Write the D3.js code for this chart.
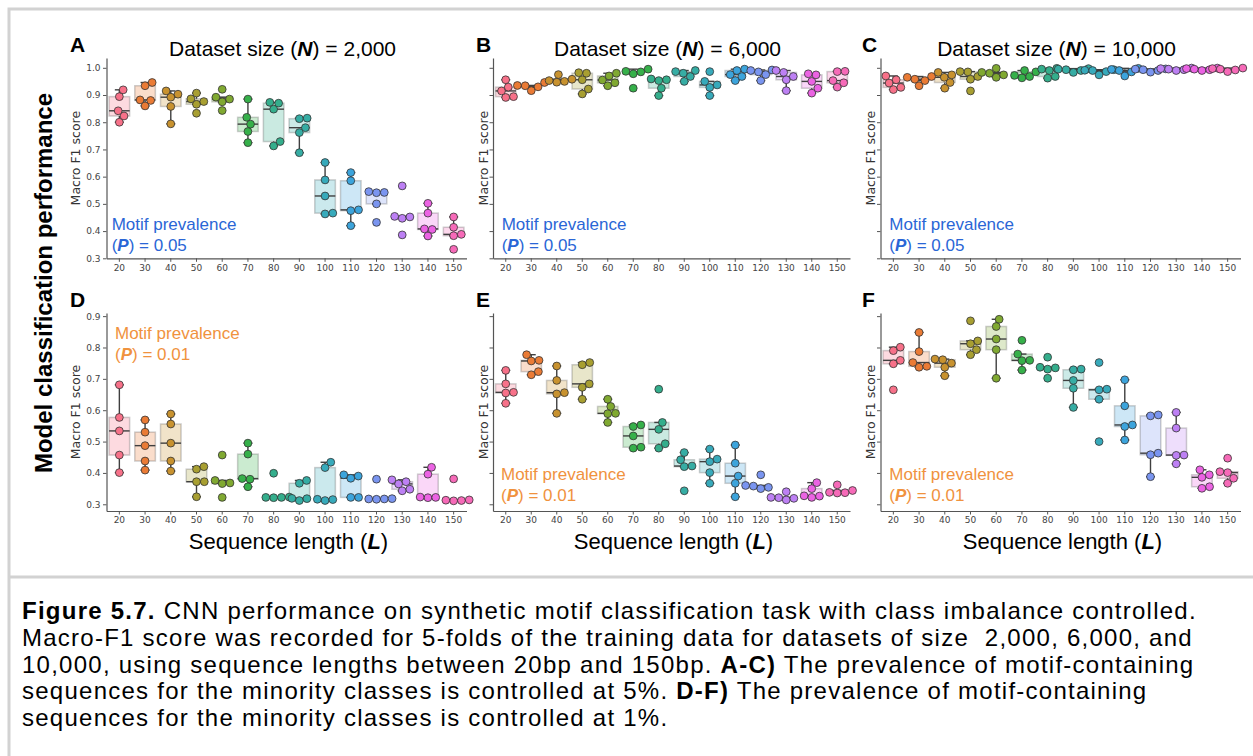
<!DOCTYPE html>
<html>
<head>
<meta charset="utf-8">
<script src="https://cdn.jsdelivr.net/npm/d3@7"></script>
<style>
body { margin: 0; background: #fff; }
text { font-family: "Liberation Sans", Arial, sans-serif; }
</style>
</head>
<body>
<div id="chart"></div>
<script>
// sequence lengths (x categories) and one colour per length (seaborn husl)
const lengths = [20, 30, 40, 50, 60, 70, 80, 90, 100, 110, 120, 130, 140, 150];
const palette = ["#f77189", "#ea7b35", "#c8922f", "#a89f31", "#80a931", "#36b04a", "#34ae8c",
                 "#36ada4", "#37aabb", "#3ca4dc", "#7a95f0", "#bd80f4", "#eb63e3", "#f66ab8"];

const datasetSizes = ["2,000", "6,000", "10,000"];
const prevalences = ["0.05", "0.01"];

// macro F1 of the 5 folds, one row per sequence length
const scoresA = [
  [0.800, 0.823, 0.842, 0.894, 0.919], [0.860, 0.880, 0.882, 0.934, 0.946],
  [0.794, 0.858, 0.892, 0.903, 0.915], [0.833, 0.866, 0.876, 0.886, 0.907],
  [0.843, 0.875, 0.885, 0.892, 0.921], [0.725, 0.766, 0.793, 0.818, 0.885],
  [0.713, 0.729, 0.848, 0.870, 0.873], [0.688, 0.762, 0.780, 0.813, 0.815],
  [0.463, 0.466, 0.529, 0.588, 0.652], [0.420, 0.475, 0.478, 0.585, 0.615],
  [0.432, 0.500, 0.541, 0.542, 0.545], [0.386, 0.447, 0.452, 0.454, 0.566],
  [0.382, 0.406, 0.408, 0.466, 0.502], [0.333, 0.383, 0.388, 0.414, 0.452]];
const scoresB = [
  [0.891, 0.894, 0.915, 0.929, 0.956], [0.916, 0.930, 0.934, 0.935, 0.946],
  [0.947, 0.950, 0.953, 0.958, 0.975], [0.904, 0.922, 0.956, 0.980, 0.982],
  [0.934, 0.945, 0.955, 0.970, 0.980], [0.925, 0.978, 0.985, 0.987, 0.995],
  [0.898, 0.925, 0.953, 0.956, 0.959], [0.950, 0.968, 0.980, 0.986, 0.990],
  [0.898, 0.928, 0.937, 0.950, 0.986], [0.953, 0.968, 0.975, 0.990, 0.995],
  [0.953, 0.975, 0.985, 0.990, 0.992], [0.916, 0.956, 0.968, 0.983, 0.990],
  [0.907, 0.925, 0.950, 0.974, 0.978], [0.929, 0.945, 0.953, 0.986, 0.987]];
const scoresC = [
  [0.920, 0.928, 0.944, 0.956, 0.970], [0.934, 0.953, 0.958, 0.965, 0.968],
  [0.925, 0.946, 0.965, 0.974, 0.983], [0.915, 0.958, 0.968, 0.985, 0.986],
  [0.965, 0.974, 0.980, 0.983, 0.998], [0.963, 0.968, 0.972, 0.985, 0.990],
  [0.962, 0.968, 0.990, 0.995, 0.998], [0.983, 0.990, 0.993, 0.995, 0.997],
  [0.974, 0.986, 0.990, 0.991, 0.993], [0.970, 0.985, 0.990, 0.994, 0.998],
  [0.984, 0.990, 0.993, 0.995, 0.996], [0.990, 0.993, 0.995, 0.997, 0.999],
  [0.990, 0.993, 0.995, 0.997, 0.999], [0.986, 0.992, 0.995, 0.997, 0.999]];
const scoresD = [
  [0.401, 0.457, 0.534, 0.577, 0.681], [0.409, 0.438, 0.487, 0.530, 0.569],
  [0.406, 0.438, 0.495, 0.556, 0.588], [0.324, 0.372, 0.372, 0.412, 0.420],
  [0.322, 0.366, 0.368, 0.376, 0.457], [0.356, 0.380, 0.382, 0.460, 0.495],
  [0.321, 0.322, 0.322, 0.323, 0.399], [0.312, 0.318, 0.319, 0.367, 0.376],
  [0.312, 0.315, 0.316, 0.417, 0.434], [0.322, 0.322, 0.383, 0.390, 0.394],
  [0.316, 0.317, 0.317, 0.318, 0.380], [0.343, 0.348, 0.365, 0.372, 0.378],
  [0.321, 0.322, 0.323, 0.396, 0.418], [0.311, 0.312, 0.313, 0.314, 0.381]];
const scoresE = [
  [0.622, 0.655, 0.657, 0.684, 0.727], [0.713, 0.723, 0.757, 0.759, 0.777],
  [0.590, 0.652, 0.656, 0.695, 0.741], [0.635, 0.673, 0.684, 0.745, 0.752],
  [0.561, 0.589, 0.590, 0.612, 0.635], [0.479, 0.482, 0.518, 0.548, 0.553],
  [0.479, 0.493, 0.539, 0.561, 0.667], [0.343, 0.420, 0.422, 0.442, 0.465],
  [0.367, 0.401, 0.436, 0.444, 0.476], [0.324, 0.367, 0.390, 0.431, 0.489],
  [0.350, 0.354, 0.358, 0.360, 0.394], [0.314, 0.319, 0.321, 0.322, 0.340],
  [0.322, 0.326, 0.327, 0.350, 0.369], [0.336, 0.337, 0.338, 0.344, 0.362]];
const scoresF = [
  [0.665, 0.748, 0.759, 0.790, 0.801], [0.737, 0.740, 0.752, 0.787, 0.848],
  [0.710, 0.737, 0.750, 0.761, 0.763], [0.777, 0.793, 0.812, 0.821, 0.885],
  [0.702, 0.793, 0.827, 0.867, 0.890], [0.728, 0.758, 0.759, 0.779, 0.823],
  [0.702, 0.731, 0.735, 0.737, 0.769], [0.609, 0.670, 0.695, 0.729, 0.731],
  [0.500, 0.635, 0.665, 0.667, 0.752], [0.505, 0.548, 0.553, 0.614, 0.697],
  [0.388, 0.458, 0.463, 0.582, 0.585], [0.429, 0.456, 0.457, 0.543, 0.593],
  [0.351, 0.356, 0.386, 0.394, 0.410], [0.367, 0.383, 0.401, 0.404, 0.447]];

const yTicksTop = [0.3, 0.4, 0.5, 0.6, 0.7, 0.8, 0.9, 1.0];
const yTicksBottom = [0.3, 0.4, 0.5, 0.6, 0.7, 0.8, 0.9];

const caption = [
  [["Figure 5.7.", true], [" CNN performance on synthetic motif classification task with class imbalance controlled.", false]],
  [["Macro-F1 score was recorded for 5-folds of the training data for datasets of size  2,000, 6,000, and", false]],
  [["10,000, using sequence lengths between 20bp and 150bp. ", false], ["A-C)", true], [" The prevalence of motif-containing", false]],
  [["sequences for the minority classes is controlled at 5%. ", false], ["D-F)", true], [" The prevalence of motif-containing", false]],
  [["sequences for the minority classes is controlled at 1%.", false]]
];

const panels = [
  {id: "A", scores: scoresA, row: 0, col: 0},
  {id: "B", scores: scoresB, row: 0, col: 1},
  {id: "C", scores: scoresC, row: 0, col: 2},
  {id: "D", scores: scoresD, row: 1, col: 0},
  {id: "E", scores: scoresE, row: 1, col: 1},
  {id: "F", scores: scoresF, row: 1, col: 2}
];

// layout
const colX = [106.5, 493, 880.5], colW = [360, 357, 360];
const rows = [
  {top: 58, bottom: 258.3, domain: [0.3, 1.036], ticks: yTicksTop, letterY: 52},
  {top: 313, bottom: 511, domain: [0.2786, 0.91], ticks: yTicksBottom, letterY: 307}
];
const letterX = [70, 476, 862];
const ylabelX = [80, 488, 875];
const noteX = [[111.7, 501.7, 889.3], [115, 501, 889.3]];
const noteY = [[230, 230, 230], [339.3, 480, 480]];
const noteColor = ["#2a66d6", "#f0923e"];
const R = 3.9, DARK = "#3f3f3f";

const svg = d3.select("#chart").append("svg").attr("width", 1253).attr("height", 756);

// page frame
svg.append("path").attr("d", "M9,760V9H1260").attr("fill", "none").attr("stroke", "#d2d2d2").attr("stroke-width", 3);
svg.append("line").attr("x1", 9).attr("x2", 1260).attr("y1", 577).attr("y2", 577)
  .attr("stroke", "#d2d2d2").attr("stroke-width", 3);

// beeswarm placement in pixel space (seaborn-like)
function swarm(vals, cx, y) {
  const d = 2 * R;
  const pts = vals.map(v => ({v, y: y(v)})).sort((a, b) => a.v - b.v);
  const placed = [];
  pts.forEach(p => {
    const cands = [0];
    placed.forEach(q => {
      const dy = Math.abs(q.y - p.y);
      if (dy < d) {
        const dx = Math.sqrt(d * d - dy * dy);
        cands.push(q.dx + dx, q.dx - dx);
      }
    });
    cands.sort((a, b) => Math.abs(a) - Math.abs(b));
    p.dx = cands.find(c => placed.every(q => (q.dx - c) ** 2 + (q.y - p.y) ** 2 >= d * d - 0.01));
    placed.push(p);
  });
  return placed.map(p => ({x: cx + p.dx, y: p.y}));
}

panels.forEach(pn => {
  const rw = rows[pn.row];
  const x0 = colX[pn.col], x1 = x0 + colW[pn.col];
  const x = d3.scaleBand().domain(lengths).range([x0, x1]).paddingInner(0.2).paddingOuter(0.1);
  const y = d3.scaleLinear().domain(rw.domain).range([rw.bottom, rw.top]);
  const g = svg.append("g");
  const bw = x.bandwidth();

  // boxes
  pn.scores.forEach((vals, i) => {
    const s = vals.slice().sort(d3.ascending);
    const q1 = d3.quantile(s, 0.25), med = d3.quantile(s, 0.5), q3 = d3.quantile(s, 0.75);
    const iqr = q3 - q1;
    const lo = d3.min(s.filter(v => v >= q1 - 1.5 * iqr));
    const hi = d3.max(s.filter(v => v <= q3 + 1.5 * iqr));
    const cx = x(lengths[i]) + bw / 2;
    const col = palette[i];
    g.append("rect").attr("x", x(lengths[i])).attr("width", bw)
      .attr("y", y(q3)).attr("height", Math.max(0.5, y(q1) - y(q3)))
      .attr("fill", col).attr("fill-opacity", 0.26)
      .attr("stroke", DARK).attr("stroke-opacity", 0.25).attr("stroke-width", 1.5);
    const seg = (xa, ya, xb, yb) => g.append("line").attr("x1", xa).attr("y1", ya).attr("x2", xb).attr("y2", yb)
      .attr("stroke", DARK).attr("stroke-width", 1.4);
    seg(cx, y(q3), cx, y(hi));
    seg(cx, y(q1), cx, y(lo));
    seg(cx - bw * 0.22, y(hi), cx + bw * 0.22, y(hi));
    seg(cx - bw * 0.22, y(lo), cx + bw * 0.22, y(lo));
    seg(x(lengths[i]), y(med), x(lengths[i]) + bw, y(med));
  });

  // points
  pn.scores.forEach((vals, i) => {
    const cx = x(lengths[i]) + bw / 2;
    g.selectAll(null).data(swarm(vals, cx, y)).join("circle")
      .attr("cx", d => d.x).attr("cy", d => d.y).attr("r", R)
      .attr("fill", palette[i]).attr("stroke", "#333").attr("stroke-width", 0.8);
  });

  // axes
  const xa = g.append("g").attr("transform", `translate(0,${rw.bottom})`)
    .call(d3.axisBottom(x).tickSize(3.5).tickPadding(2.5).tickSizeOuter(0));
  const ya = g.append("g").attr("transform", `translate(${x0},0)`)
    .call(d3.axisLeft(y).tickValues(rw.ticks).tickSize(3.5).tickPadding(2.5).tickSizeOuter(0)
      .tickFormat(pn.col === 0 ? d3.format(".1f") : ""));
  [xa, ya].forEach(a => {
    a.select(".domain").attr("stroke", "#555").attr("stroke-width", 1.2);
    a.selectAll(".tick line").attr("stroke", "#555").attr("stroke-width", 1);
    a.selectAll(".tick text").attr("fill", "#444").attr("font-size", 9)
      .style("font-family", "'DejaVu Sans', sans-serif");
  });

  // axis label
  g.append("text").attr("transform", `translate(${ylabelX[pn.col]},${(rw.top + rw.bottom) / 2}) rotate(-90)`)
    .attr("text-anchor", "middle").attr("fill", "#333").attr("font-size", 12.5)
    .style("font-family", "'DejaVu Sans', sans-serif").text("Macro F1 score");

  // panel letter
  g.append("text").attr("x", letterX[pn.col]).attr("y", rw.letterY)
    .attr("font-size", 21).attr("font-weight", "bold").text(pn.id);

  // title / x label
  if (pn.row === 0) {
    const t = g.append("text").attr("x", (x0 + x1) / 2 - 4).attr("y", 56)
      .attr("text-anchor", "middle").attr("font-size", 21);
    t.append("tspan").text("Dataset size (");
    t.append("tspan").attr("font-weight", "bold").attr("font-style", "italic").text("N");
    t.append("tspan").text(") = " + datasetSizes[pn.col]);
  } else {
    const t = g.append("text").attr("x", (x0 + x1) / 2 + 2).attr("y", 549)
      .attr("text-anchor", "middle").attr("font-size", 22);
    t.append("tspan").text("Sequence length (");
    t.append("tspan").attr("font-weight", "bold").attr("font-style", "italic").text("L");
    t.append("tspan").text(")");
  }

  // prevalence note
  const ny = noteY[pn.row][pn.col];
  const note = g.append("g").attr("fill", noteColor[pn.row]).attr("font-size", 17);
  note.append("text").attr("x", noteX[pn.row][pn.col]).attr("y", ny).text("Motif prevalence");
  const l2 = note.append("text").attr("x", noteX[pn.row][pn.col]).attr("y", ny + 20.5);
  l2.append("tspan").text("(");
  l2.append("tspan").attr("font-weight", "bold").attr("font-style", "italic").text("P");
  l2.append("tspan").text(") = " + prevalences[pn.row]);
});

// overall y label
svg.append("text").attr("transform", "translate(52,283) rotate(-90)")
  .attr("text-anchor", "middle").attr("font-size", 24).attr("font-weight", "bold")
  .text("Model classification performance");

// caption
caption.forEach((line, i) => {
  const t = svg.append("text").attr("x", 22).attr("y", 619 + i * 26.8)
    .attr("font-size", 24).attr("letter-spacing", 1.25).style("white-space", "pre");
  line.forEach(([s, b]) => t.append("tspan").attr("font-weight", b ? "bold" : null).text(s));
});
</script>
</body>
</html>
